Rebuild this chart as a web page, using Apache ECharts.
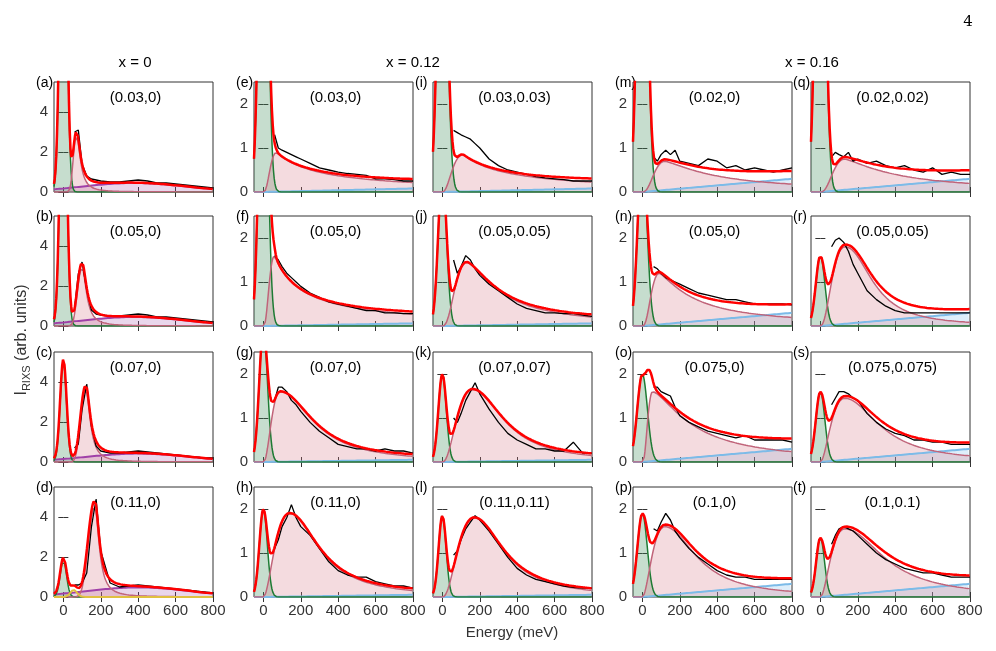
<!DOCTYPE html>
<html>
<head>
<meta charset="UTF-8">
<script src="https://cdn.jsdelivr.net/npm/echarts@6/dist/echarts.min.js"></script>
<style>html,body{margin:0;background:#fff}</style>
</head>
<body>
<div id="main" style="width:996px;height:651px;"></div>
<script>
// panel ids, column by column
var panelIds = ['a','b','c','d','e','f','g','h','i','j','k','l','m','n','o','p','q','r','s','t'];
var momenta = ['(0.03,0)','(0.05,0)','(0.07,0)','(0.11,0)',
  '(0.03,0)','(0.05,0)','(0.07,0)','(0.11,0)',
  '(0.03,0.03)','(0.05,0.05)','(0.07,0.07)','(0.11,0.11)',
  '(0.02,0)','(0.05,0)','(0.075,0)','(0.1,0)',
  '(0.02,0.02)','(0.05,0.05)','(0.075,0.075)','(0.1,0.1)'];
var dopingLabels = ['x = 0', 'x = 0.12', 'x = 0.16'];

// elastic peak: height and width (Gaussian at 0 meV)
var elasticHeight = [20,15,5.0,1.8, 10,8,3.0,2.0, 8,3.5,2.0,1.85, 10,4,2.0,1.9, 10,1.6,1.6,1.35];
var elasticWidth = [17,17,17,17, 22,22,22,21, 24,22,21,20, 24,24,27,26, 24,24,24,22];
// (para)magnon: [peak energy, height, rise sharpness, tail width, tail power]
var magnon = [
  [70,2.8,14,25,2],[100,2.9,14,28,2],[120,3.6,16,28,2],[168,4.5,20,28,2],
  [70,0.9,3,230,1],[60,1.6,3,150,1],[90,1.6,2.5,210,2],[140,1.9,2,190,2],
  [110,0.85,2.5,250,1],[130,1.45,3,200,1.5],[160,1.65,2.5,200,2],[170,1.8,2.5,190,2],
  [120,0.7,3,300,1.3],[90,1.2,3,200,1.3],[55,1.6,3,230,1.5],[120,1.6,2,200,2],
  [130,0.75,3,300,1.3],[130,1.8,2.5,170,2.2],[130,1.45,2,220,2],[130,1.55,2,250,2]
];
// background: x=0 broad hump [centre, height, width]; doped: linear value at 800 meV
var humpBg = [[380,0.45,280],[380,0.45,280],[400,0.42,280],[400,0.48,280]];
var slopeBg = [0.08,0.06,0.05,0.05, 0.08,0.06,0.05,0.05, 0.3,0.3,0.3,0.3, 0.3,0.3,0.3,0.3];
// small phonon in (d)
var phononD = [55, 0.35, 18];

// measured spectra (black), read at these energies
var obsE = [60,80,100,125,150,175,200,250,300,350,400,450,500,550,600,650,700,750,800];
var obs = [
  [3.0,3.1,1.4,0.8,0.65,0.6,0.55,0.5,0.5,0.55,0.6,0.55,0.45,0.45,0.4,0.35,0.3,0.25,0.2],
  [0.9,2.6,3.2,1.8,0.8,0.6,0.55,0.5,0.5,0.55,0.6,0.55,0.45,0.45,0.4,0.35,0.3,0.25,0.2],
  [0.7,0.9,2.6,3.9,1.8,0.8,0.55,0.45,0.45,0.5,0.55,0.5,0.45,0.4,0.35,0.3,0.25,0.2,0.2],
  [0.6,0.6,0.7,1.2,3.5,4.9,2.3,0.7,0.5,0.55,0.6,0.55,0.5,0.45,0.4,0.35,0.3,0.25,0.2],
  [1.3,1.0,0.95,0.9,0.85,0.8,0.75,0.65,0.55,0.5,0.45,0.42,0.4,0.38,0.3,0.3,0.28,0.25,0.25],
  [1.6,1.5,1.35,1.2,1.1,1.0,0.9,0.75,0.65,0.55,0.5,0.45,0.4,0.35,0.35,0.3,0.3,0.28,0.28],
  [1.4,1.7,1.7,1.6,1.4,1.3,1.15,0.9,0.7,0.55,0.4,0.35,0.3,0.3,0.25,0.3,0.25,0.25,0.2],
  [1.1,1.3,1.6,1.8,2.1,1.8,1.6,1.4,1.1,0.8,0.6,0.5,0.45,0.45,0.35,0.3,0.25,0.25,0.2],
  [1.4,1.35,1.3,1.25,1.2,1.1,1.0,0.75,0.6,0.5,0.45,0.4,0.35,0.32,0.3,0.28,0.25,0.25,0.25],
  [1.5,1.2,1.35,1.6,1.5,1.3,1.15,0.95,0.8,0.65,0.5,0.4,0.35,0.3,0.3,0.28,0.28,0.25,0.22],
  [1.0,0.9,1.1,1.4,1.6,1.8,1.55,1.2,0.9,0.65,0.5,0.4,0.3,0.3,0.25,0.25,0.45,0.2,0.2],
  [0.95,1.05,1.3,1.55,1.7,1.85,1.75,1.5,1.2,0.9,0.65,0.5,0.4,0.35,0.3,0.25,0.22,0.2,0.2],
  [0.8,0.7,0.85,0.95,0.85,0.95,0.7,0.65,0.6,0.75,0.7,0.55,0.6,0.5,0.55,0.5,0.45,0.5,0.55],
  [1.35,1.3,1.2,1.1,1.05,1.0,0.95,0.85,0.75,0.7,0.65,0.6,0.6,0.55,0.5,0.5,0.5,0.5,0.48],
  [1.7,1.7,1.6,1.55,1.5,1.25,1.05,0.9,0.8,0.7,0.65,0.6,0.55,0.6,0.5,0.5,0.5,0.5,0.45],
  [1.55,1.5,1.7,1.9,1.75,1.5,1.35,1.1,0.9,0.75,0.6,0.5,0.45,0.45,0.4,0.4,0.4,0.4,0.4],
  [0.8,0.9,0.85,0.8,0.9,0.7,0.75,0.65,0.7,0.6,0.55,0.6,0.5,0.45,0.55,0.4,0.45,0.4,0.4],
  [1.8,1.95,2.0,1.9,1.7,1.4,1.2,0.8,0.6,0.45,0.35,0.3,0.3,0.3,0.3,0.3,0.3,0.3,0.3],
  [1.3,1.45,1.6,1.6,1.55,1.45,1.4,1.1,0.9,0.75,0.65,0.6,0.5,0.5,0.45,0.45,0.4,0.4,0.4],
  [1.2,1.4,1.55,1.6,1.55,1.5,1.4,1.2,1.0,0.85,0.75,0.65,0.6,0.55,0.55,0.5,0.45,0.45,0.45]
];

var colLeft = [54, 254, 433, 633, 811];
var rowTop = [82, 216, 352, 487];
var W = 159, H = 110;
var font = 'Liberation Sans';

var energies = [];
for (var e = -50; e <= 800; e += 4) energies.push(e);

function gauss(E, c, h, s) { return h * Math.exp(-(E - c) * (E - c) / (2 * s * s)); }
function magnonAt(E, m) {
  if (E <= 0) return 0;
  if (E <= m[0]) { var u = E / m[0]; return m[1] * Math.pow(u, m[2]) * Math.exp(m[2] * (1 - u)); }
  return m[1] / (1 + Math.pow((E - m[0]) / m[3], m[4]));
}

var grids = [], xAxes = [], yAxes = [], series = [], graphics = [];
var xTicks = [0, 200, 400, 600, 800];
for (var p = 0; p < 20; p++) {
  var col = Math.floor(p / 4), row = p % 4;
  var gi = grids.length;
  grids.push({ left: colLeft[col], top: rowTop[row], width: W, height: H,
    show: true, borderColor: '#333', borderWidth: 1, backgroundColor: 'transparent' });
  var ymax = col === 0 ? 5.5 : 2.5;
  var yTicks = col === 0 ? [0, 2, 4] : [0, 1, 2];
  var showY = col === 0 || col === 1 || col === 3;
  var tick = { inside: true, length: 5, lineStyle: { color: '#333' } };
  var base = { min: -50, max: 800, gridIndex: gi, type: 'value', splitLine: { show: false }, axisLine: { show: false } };
  xAxes.push(Object.assign({}, base, {
    axisTick: Object.assign({ customValues: xTicks }, tick),
    axisLabel: { show: row === 3, customValues: xTicks, fontFamily: font, fontSize: 15, color: '#333', margin: 6 }
  }));
  xAxes.push(Object.assign({}, base, { position: 'top',
    axisTick: Object.assign({ customValues: xTicks }, tick), axisLabel: { show: false } }));
  var ybase = { min: 0, max: ymax, gridIndex: gi, type: 'value', splitLine: { show: false }, axisLine: { show: false } };
  yAxes.push(Object.assign({}, ybase, {
    axisTick: Object.assign({ customValues: yTicks }, tick),
    axisLabel: { show: showY, customValues: yTicks, fontFamily: font, fontSize: 15, color: '#333', margin: 6 }
  }));
  yAxes.push(Object.assign({}, ybase, { position: 'right',
    axisTick: Object.assign({ customValues: yTicks }, tick), axisLabel: { show: false } }));
  var xi = 2 * p, yi = 2 * p;

  var el = [], mg = [], bg = [], ph = [], tot = [];
  energies.forEach(function (E) {
    var a = gauss(E, 0, elasticHeight[p], elasticWidth[p]);
    var b = magnonAt(E, magnon[p]);
    var c = col === 0 ? gauss(E, humpBg[row][0], humpBg[row][1], humpBg[row][2])
                      : (E > 0 ? slopeBg[p - 4] * E / 800 : 0);
    var d = p === 3 ? gauss(E, phononD[0], phononD[1], phononD[2]) : 0;
    el.push([E, a]); mg.push([E, b]); bg.push([E, c]); ph.push([E, d]);
    tot.push([E, a + b + c + d]);
  });
  function comp(data, line, fill, w) {
    series.push({ type: 'line', xAxisIndex: xi, yAxisIndex: yi, data: data, symbol: 'none',
      lineStyle: { color: line, width: w }, areaStyle: fill ? { color: fill } : undefined,
      silent: true, animation: false });
  }
  if (col === 0) comp(bg, '#a040a8', 'rgba(150,60,160,0.3)', 2);
  else comp(bg, '#7cbbe8', 'rgba(120,185,235,0.35)', 2);
  comp(el, '#1e7b34', 'rgba(60,140,90,0.42)', 1.5);
  comp(mg, '#c0647a', 'rgba(215,120,135,0.38)', 1.5);
  if (p === 3) comp(ph, '#e0c040', null, 2);
  series.push({ type: 'line', xAxisIndex: xi, yAxisIndex: yi, symbol: 'none', animation: false,
    data: obsE.map(function (E, k) { return [E, obs[p][k]]; }),
    lineStyle: { color: '#000', width: 1.3 } });
  series.push({ type: 'line', xAxisIndex: xi, yAxisIndex: yi, symbol: 'none', animation: false,
    data: tot, lineStyle: { color: '#ff0000', width: 2.5 } });

  graphics.push({ type: 'text', left: colLeft[col] - 18, top: rowTop[row] - 6,
    style: { text: '(' + panelIds[p] + ')', font: '14px ' + font, fill: '#000' } });
  graphics.push({ type: 'text', x: colLeft[col] + W / 2 + 2, y: rowTop[row] + 16,
    style: { text: momenta[p], font: '15px ' + font, fill: '#000', textAlign: 'center', textVerticalAlign: 'middle' } });
}

var headerX = [135, 413, 812];
dopingLabels.forEach(function (t, k) {
  graphics.push({ type: 'text', x: headerX[k], y: 63,
    style: { text: t, font: '15px ' + font, fill: '#000', textAlign: 'center', textVerticalAlign: 'middle' } });
});
graphics.push({ type: 'text', x: 968, y: 22,
  style: { text: '4', font: '15px "DejaVu Serif"', fill: '#000', textAlign: 'center', textVerticalAlign: 'middle' } });
graphics.push({ type: 'text', x: 512, y: 633,
  style: { text: 'Energy (meV)', font: '15px ' + font, fill: '#333', textAlign: 'center', textVerticalAlign: 'middle' } });
graphics.push({ type: 'text', x: 22, y: 340, rotation: Math.PI / 2,
  style: { text: '{a|I}{b|RIXS}{a| (arb. units)}', textAlign: 'center', textVerticalAlign: 'middle',
    rich: { a: { font: '16px ' + font, fill: '#333' }, b: { font: '11px ' + font, fill: '#333', padding: [10, 0, 0, 0] } } } });

var myChart = echarts.init(document.getElementById('main'));
myChart.setOption({
  animation: false,
  grid: grids, xAxis: xAxes, yAxis: yAxes, series: series, graphic: graphics
});
</script>
</body>
</html>
